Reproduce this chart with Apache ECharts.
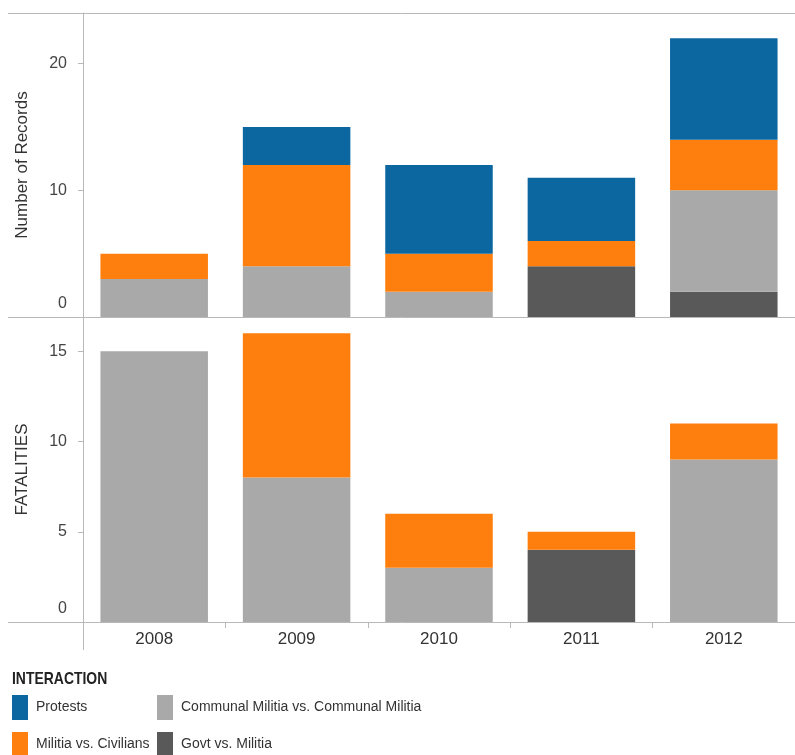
<!DOCTYPE html>
<html>
<head>
<meta charset="utf-8">
<script src="https://cdn.jsdelivr.net/npm/echarts@6/dist/echarts.min.js"></script>
<style>
html,body{margin:0;padding:0;background:#fff;}
#main{width:795px;height:755px;}
</style>
</head>
<body>
<div id="main"></div>
<script>
// ---- data ----
var years = ['2008', '2009', '2010', '2011', '2012'];
var seriesNames = ['Govt vs. Militia', 'Communal Militia vs. Communal Militia', 'Militia vs. Civilians', 'Protests'];
// Number of Records
var recGovt      = [0, 0, 0, 4, 2];
var recCommunal  = [3, 4, 2, 0, 8];
var recCivilians = [2, 8, 3, 2, 4];
var recProtests  = [0, 3, 7, 5, 8];
// Fatalities
var fatGovt      = [0, 0, 0, 4, 0];
var fatCommunal  = [15, 8, 3, 0, 9];
var fatCivilians = [0, 8, 3, 1, 2];
var fatProtests  = [0, 0, 0, 0, 0];
var recTicks = [0, 10, 20];
var fatTicks = [0, 5, 10, 15];

var colors = {
  'Govt vs. Militia': '#595959',
  'Communal Militia vs. Communal Militia': '#a9a9a9',
  'Militia vs. Civilians': '#ff7f0e',
  'Protests': '#0c67a1'
};

var recData = [recGovt, recCommunal, recCivilians, recProtests];
var fatData = [fatGovt, fatCommunal, fatCivilians, fatProtests];

var series = [];
seriesNames.forEach(function (n, i) {
  series.push({
    name: n, type: 'bar', stack: 'rec', xAxisIndex: 0, yAxisIndex: 0,
    data: recData[i], barCategoryGap: '24.5%',
    itemStyle: { color: colors[n] }
  });
});
seriesNames.forEach(function (n, i) {
  series.push({
    name: n, type: 'bar', stack: 'fat', xAxisIndex: 1, yAxisIndex: 1,
    data: fatData[i], barCategoryGap: '24.5%',
    itemStyle: { color: colors[n] }
  });
});

var FONT = '"Liberation Sans", Arial, sans-serif';

function yLabel(ticks) {
  return {
    margin: 16,
    fontFamily: FONT, fontSize: 16, color: '#444',
    formatter: function (v) { return v === 0 ? '{z|0}' : (ticks.indexOf(v) >= 0 ? String(v) : ''); },
    rich: { z: { fontFamily: FONT, fontSize: 16, color: '#444', padding: [0, 0, 26, 0] } },
    showMaxLabel: false
  };
}

function legendItem(name, left, top) {
  return {
    data: [name], left: left, top: top, padding: 0,
    itemWidth: 16, itemHeight: 25, itemGap: 8, icon: 'rect',
    textStyle: { fontFamily: FONT, fontSize: 14, color: '#333', padding: [8, 0, 0, 3] }
  };
}

var chart = echarts.init(document.getElementById('main'), null, { renderer: 'canvas' });
chart.setOption({
  animation: false,
  backgroundColor: '#fff',
  grid: [
    { left: 83, top: 13, width: 721, height: 304 },
    { left: 83, top: 317, width: 721, height: 305 }
  ],
  xAxis: [
    { type: 'category', gridIndex: 0, data: years,
      axisLine: { show: false }, axisTick: { show: false }, axisLabel: { show: false } },
    { type: 'category', gridIndex: 1, data: years,
      axisLine: { show: false },
      axisTick: { show: true, length: 6, lineStyle: { color: '#b8b8b8' } },
      axisLabel: { margin: 9, fontFamily: FONT, fontSize: 17, color: '#333' } }
  ],
  yAxis: [
    { type: 'value', gridIndex: 0, min: 0, max: 24, interval: 10,
      name: 'Number of Records', nameLocation: 'middle', nameGap: 52, nameRotate: 90,
      nameTextStyle: { fontFamily: FONT, fontSize: 17, color: '#333' },
      axisLine: { show: true, lineStyle: { color: '#b8b8b8' } },
      axisTick: { show: true, length: 5, lineStyle: { color: '#b8b8b8' } },
      splitLine: { show: false },
      axisLabel: yLabel(recTicks) },
    { type: 'value', gridIndex: 1, min: 0, max: 16.9, interval: 5,
      name: 'FATALITIES', nameLocation: 'middle', nameGap: 52, nameRotate: 90,
      nameTextStyle: { fontFamily: FONT, fontSize: 17, color: '#333' },
      axisLine: { show: true, lineStyle: { color: '#b8b8b8' } },
      axisTick: { show: true, length: 5, lineStyle: { color: '#b8b8b8' } },
      splitLine: { show: false },
      axisLabel: yLabel(fatTicks) }
  ],
  legend: [
    legendItem('Protests', 12, 695),
    legendItem('Militia vs. Civilians', 12, 732),
    legendItem('Communal Militia vs. Communal Militia', 157, 695),
    legendItem('Govt vs. Militia', 157, 732)
  ],
  graphic: [
    { type: 'line', shape: { x1: 8, y1: 13.5, x2: 795, y2: 13.5 }, style: { stroke: '#b8b8b8', lineWidth: 1 }, silent: true },
    { type: 'line', shape: { x1: 8, y1: 317.5, x2: 795, y2: 317.5 }, style: { stroke: '#b8b8b8', lineWidth: 1 }, silent: true },
    { type: 'line', shape: { x1: 8, y1: 622.5, x2: 795, y2: 622.5 }, style: { stroke: '#b8b8b8', lineWidth: 1 }, silent: true },
    { type: 'line', shape: { x1: 83.5, y1: 622, x2: 83.5, y2: 650 }, style: { stroke: '#b8b8b8', lineWidth: 1 }, silent: true },
    { type: 'text', x: 12, y: 671, scaleX: 0.82, style: { text: 'INTERACTION', font: 'bold 17px "Liberation Sans", Arial, sans-serif', fill: '#222' } }
  ],
  series: series
});
</script>
</body>
</html>
